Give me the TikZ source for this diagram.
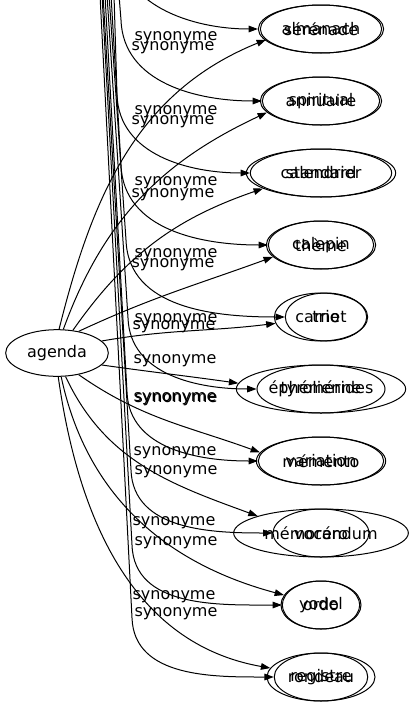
\documentclass[tikz,border=0pt]{standalone}
\usepackage{fontspec}
\setmainfont{DejaVu Sans}
\usepackage{tikz}
\usetikzlibrary{shapes.geometric}
\usetikzlibrary{arrows.meta,arrows}
\usetikzlibrary{positioning}

\begin{document}
\begin{tikzpicture}[>={Triangle[length=7pt,width=5pt]},x=0.75pt,y=-0.75pt,node distance=54pt,line width=0.75pt,font=\fontsize{12}{14}\selectfont]
 \tikzstyle{word node}=[ellipse,draw,inner sep=0,minimum height=36pt]
 \tikzstyle{syn node}=[inner sep=0]
 \useasboundingbox (0,0) rectangle (412,707);
 \clip (0,0) rectangle (412,707);

       \node[word node,minimum width=77pt,minimum height=35pt] (agenda) at (57,353) {agenda};

       \node[word node,minimum width=91pt] (a1) at (321,29) {almanach};
       \node[word node,minimum width=91pt] (a2) [below of=a1] {annuaire};
       \node[word node,minimum width=112pt] (a3) [below of=a2] {calendrier};
       \node[word node,minimum width=82pt] (a4) [below of=a3] {calepin};
       \node[word node,minimum width=70pt] (a5) [below of=a4] {carnet};
       \node[word node,minimum width=127pt] (a6) [below of=a5] {éphémérides};
       \node[word node,minimum width=97pt] (a7) [below of=a6] {mémento};
       \node[word node,minimum width=131pt] (a8) [below of=a7] {mémorandum};
       \node[word node,minimum width=60pt] (a9) [below of=a8] {ordo};
       \node[word node,minimum width=81pt] (a10) [below of=a9] {registre};

       \node[word node,minimum width=94pt] (b1) at (a1) {sérénade};
       \node[word node,minimum width=88pt] (b2) at (a2) {spiritual};
       \node[word node,minimum width=106pt] (b3) at (a3) {standard};
       \node[word node,minimum width=79pt] (b4) at (a4) {thème};
       \node[word node,minimum width=61pt] (b5) at ([xshift=3.75pt]a5) {trio};
       \node[word node,minimum width=96pt] (b6) at (a6) {tyrolienne};
       \node[word node,minimum width=94pt] (b7) at (a7) {variation};
       \node[word node,minimum width=72pt] (b8) at (a8) {vocéro};
       \node[word node,minimum width=58pt] (b9) at (a9) {yodel};
       \node[word node,minimum width=68pt] (b10) at (a10) {rondeau};

       \node[syn node] (s1) at (176,38) {synonyme};
       \node[syn node] (s2) at (173,48) {synonyme};
       \node[syn node] (s3) at (176,112) {synonyme};
       \node[syn node] (s4) at (173,122) {synonyme};
       \node[syn node] (s5) at (176,183) {synonyme};
       \node[syn node] (s6) at (173,195) {synonyme};
       \node[syn node] (s7) at (176,255) {synonyme};
       \node[syn node] (s8) at (173,265) {synonyme};
       \node[syn node] (s9) at (176,320) {synonyme};
       \node[syn node] (s10) at (174,327) {synonyme};
       \node[syn node] (s11) at (175,361) {synonyme};
       \node[syn node] (s12) at (175,399) {synonyme};
       \node[syn node] (s13) at (176,400) {synonyme};
       \node[syn node] (s14) at (175,453) {synonyme};
       \node[syn node] (s15) at (176,472) {synonyme};
       \node[syn node] (s16) at (174,523) {synonyme};
       \node[syn node] (s17) at (176,543) {synonyme};
       \node[syn node] (s18) at (174,597) {synonyme};
       \node[syn node] (s19) at (176,614) {synonyme};

       % the other root lies above the frame
       \coordinate (top1) at (114,-100);  \coordinate (bend1) at (116,-60);
       \coordinate (top2) at (119,-5);    \coordinate (bend2) at (121,20);
       \coordinate (top3) at (114,-5);    \coordinate (bend3) at (117,95);
       \coordinate (top4) at (111,-5);    \coordinate (bend4) at (121,165);
       \coordinate (top5) at (109,-5);    \coordinate (bend5) at (126,240);
       \coordinate (top6) at (107,-5);    \coordinate (bend6) at (128,318);
       \coordinate (top7) at (105,-5);    \coordinate (bend7) at (127,392);
       \coordinate (top8) at (103,-5);    \coordinate (bend8) at (131,470);
       \coordinate (top9) at (102,-5);    \coordinate (bend9) at (132,545);
       \coordinate (top10) at (100,-5);   \coordinate (bend10) at (132,618);

     \path[->]  (agenda.85) edge[out=76,in=202] (a1.191);
     \path[->]  (agenda.75) edge[out=70,in=205] (a2.192);
     \path[->]  (agenda.55) edge[out=55,in=199] (a3.195);
     \path[->]  (agenda.45) edge[out=25,in=200] (a4.194);
     \path[->]  (agenda.15) edge[out=10,in=187] (a5.188);
     \path[->]  (agenda.-15) edge[out=-8,in=172] (a6.176);
     \path[->]  (agenda.-45) edge[out=-35,in=160] (a7.172);
     \path[->]  (agenda.-70) edge[out=-65,in=160] (a8.165);
     \path[->]  (agenda.-80) edge[out=-78,in=165] (a9.165);
     \path[->]  (agenda.-87) edge[out=-82,in=170] (a10.170);

     \draw[->]  (top1) -- (bend1) to[out=-88,in=180] (b1.west);
     \draw[->]  (top2) -- (bend2) to[out=-88,in=180] (b2.west);
     \draw[->]  (top3) -- (bend3) to[out=-88,in=180] (b3.west);
     \draw[->]  (top4) -- (bend4) to[out=-88,in=180] (b4.west);
     \draw[->]  (top5) -- (bend5) to[out=-88,in=180] (b5.west);
     \draw[->]  (top6) -- (bend6) to[out=-88,in=180] (b6.west);
     \draw[->]  (top7) -- (bend7) to[out=-88,in=180] (b7.west);
     \draw[->]  (top8) -- (bend8) to[out=-88,in=180] (b8.west);
     \draw[->]  (top9) -- (bend9) to[out=-88,in=180] (b9.west);
     \draw[->]  (top10) -- (bend10) to[out=-88,in=180] (b10.west);
 \end{tikzpicture}
\end{document}
